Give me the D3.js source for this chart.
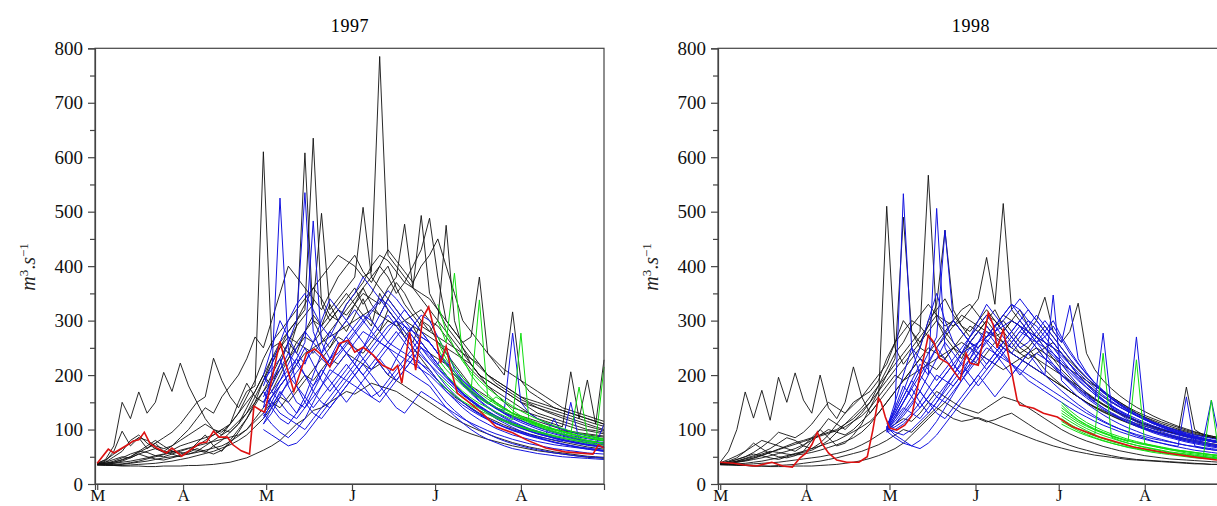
<!DOCTYPE html>
<html>
<head>
<meta charset="utf-8">
<script src="https://cdn.jsdelivr.net/npm/d3@7/dist/d3.min.js"></script>
<style>
body { margin: 0; background: #fff; }
svg { display: block; }
</style>
</head>
<body>
<div id="chart"></div>
<script>
// axis labels: months from 1 March, flow in m3/s
const monthLabels = ["M", "A", "M", "J", "J", "A"];
const monthDays = [0, 31, 61, 92, 122, 153];
const flowTicks = [0, 100, 200, 300, 400, 500, 600, 700, 800];
const flowMinor = [50, 150, 250, 350, 450, 550, 650, 750];
const years = ["1997", "1998"];

// forecast members are read every 3 days
const gridDays = [0,3,6,9,12,15,18,21,24,27,30,33,36,39,42,45,48,51,54,57,60,63,66,69,72,75,78,81,84,87,
  90,93,96,99,102,105,108,111,114,117,120,123,126,129,132,135,138,141,144,147,150,153,156,159,162,165,168,171,174,177,180,183];
const blueStart = 20;   // members issued 1 May
const greenStart = 41;  // members issued 1 July

// ---- 1997 ----
const black97 = [
  [36,35,34,33,33,33,32,32,33,33, 33,34,34,35,36,38,40,44,48,55, 62,70,80,95,110,120,135,140,150,160, 170,165,175,185,180,175,170,160,150,140, 130,120,112,105,98,92,87,82,78,74, 70,67,64,61,59,57,55,53,51,49, 48,47],
  [38,45,70,150,120,169,130,150,205,170, 222,180,150,160,231,190,160,140,170,180, 610,250,260,280,300,330,360,340,310,300, 280,310,340,300,280,320,300,270,290,260, 240,230,220,200,185,170,160,150,140,130, 125,120,115,110,105,100,98,95,92,90, 88,86],
  [37,42,60,97,70,85,65,75,60,55, 50,60,75,90,70,60,80,100,120,150, 190,230,260,240,290,608,300,270,250,280, 300,330,310,290,350,320,300,280,260,300, 290,260,240,220,200,180,170,160,150,140, 130,125,120,115,110,105,100,97,94,92, 90,88],
  [36,38,42,48,55,60,58,52,50,55, 60,65,62,58,70,80,95,110,140,170, 200,230,250,280,300,320,635,330,300,320, 340,360,330,350,380,400,360,330,310,290, 280,300,475,300,250,220,200,180,165,150, 140,135,130,125,120,115,110,105,100,98, 95,92],
  [37,40,45,50,48,55,60,65,58,62, 70,75,80,85,90,100,110,130,160,190, 230,260,280,300,320,340,360,380,400,420, 410,400,380,390,785,420,400,380,360,340, 320,300,280,260,240,220,200,190,180,170, 160,150,140,130,125,120,115,110,105,100, 98,95],
  [36,37,38,40,42,45,48,52,55,60, 58,55,60,70,80,90,100,115,130,150, 170,200,230,260,290,310,330,497,320,340, 360,380,508,380,360,340,320,300,290,280, 270,260,250,240,230,220,200,190,180,170, 160,150,145,140,135,130,125,120,115,110, 105,100],
  [35,36,38,42,48,55,50,46,44,48, 52,58,65,60,55,62,75,95,120,145, 170,190,210,230,250,270,260,280,300,320, 310,330,350,340,330,360,380,477,360,493, 350,320,290,270,250,230,215,200,190,180, 170,160,155,150,145,140,135,130,125,120, 115,110],
  [36,38,40,45,50,60,70,80,70,60, 55,60,70,80,90,100,95,110,130,160, 190,220,250,270,260,280,300,290,310,330, 350,330,360,380,400,380,350,370,400,430, 488,380,300,280,260,270,380,240,220,200, 316,190,170,160,150,140,135,130,125,120, 115,110],
  [37,36,35,36,38,40,42,45,48,50, 52,55,58,62,66,70,78,88,100,120, 140,160,180,200,220,240,250,260,270,280, 290,300,310,320,310,300,290,300,310,320, 300,290,270,250,230,210,195,180,170,160, 150,140,130,120,115,110,105,206,120,191, 110,228],
  [35,34,34,34,35,36,37,38,40,42, 45,48,52,56,60,66,72,80,90,105, 120,140,160,150,170,190,210,230,250,270, 260,250,240,260,280,300,290,270,250,230, 210,190,175,160,150,140,130,122,115,108, 102,97,92,88,84,80,77,74,71,68, 66,64],
  [38,44,55,65,75,85,80,70,65,70, 80,90,100,110,100,95,110,130,150,170, 200,180,220,260,240,280,310,290,330,300, 320,340,360,330,310,340,370,350,320,300, 280,270,260,250,240,230,220,200,185,175, 165,155,148,140,133,127,121,116,111,106, 102,98],
  [36,38,40,44,50,58,66,75,85,95, 110,130,150,120,100,90,110,150,185,160, 150,170,200,230,260,250,240,260,280,300, 330,350,370,400,420,410,390,370,360,350, 340,320,300,280,260,240,220,200,190,180, 170,160,150,145,140,135,130,125,120,115, 110,106],
  [35,35,36,37,39,42,46,50,54,58, 62,66,70,74,78,82,86,90,100,115, 130,150,140,160,180,200,190,210,230,220, 240,230,220,210,220,200,190,180,170,160, 150,140,130,120,112,105,98,92,86,81, 76,72,68,65,62,59,57,55,53,51, 50,49],
  [37,40,50,60,80,90,75,65,60,70, 85,100,120,140,130,160,180,200,230,270, 250,300,350,400,380,360,340,320,350,380, 400,420,390,370,400,430,410,390,370,400, 420,450,400,350,300,280,260,240,225,210, 200,190,180,170,160,150,140,135,130,125, 120,115]
];
const blue97 = [
  [140,200,525,250,180,150,130,120,140,160, 180,200,220,240,260,250,230,210,200,190, 180,160,140,125,112,100,90,82,76,70, 65,62,59,56,54,52,50,49,48,47, 46,45],
  [160,190,220,260,300,535,280,240,220,250, 270,290,310,300,280,260,250,240,230,220, 210,190,170,155,140,128,118,110,102,96, 90,86,82,78,75,72,70,68,66,64, 62,60],
  [120,150,180,200,230,260,483,260,230,240, 260,280,300,320,340,330,310,290,270,250, 240,220,200,180,165,152,140,130,122,115, 108,102,97,92,88,84,80,77,74,72, 70,68],
  [100,90,80,70,75,90,110,130,150,170, 190,210,230,250,270,290,300,280,260,240, 220,200,180,165,150,138,128,119,111,104, 98,93,88,84,80,76,73,70,67,65, 63,61],
  [180,220,260,300,330,350,320,290,270,300, 330,350,380,360,340,320,300,290,280,270, 260,240,220,200,185,170,158,148,140,135, 277,150,130,120,112,106,101,96,92,88, 85,82],
  [130,110,95,85,100,120,150,180,210,200, 190,180,170,160,150,170,190,210,230,210, 190,170,150,135,122,110,100,92,85,79, 74,70,66,63,60,57,55,53,51,50, 49,48],
  [200,250,300,270,240,220,260,300,340,320, 300,280,260,240,220,200,230,260,290,310, 300,270,240,215,195,178,163,150,139,129, 120,113,107,101,96,92,88,84,81,78, 76,74],
  [150,170,190,210,230,200,170,150,140,160, 180,200,220,200,180,160,140,130,150,170, 160,150,140,130,120,112,105,98,92,87, 82,78,74,71,68,65,63,61,59,57, 56,55],
  [170,140,120,110,130,160,200,240,280,260, 240,220,250,280,310,340,320,300,280,260, 240,220,250,210,190,175,160,148,138,130, 122,116,110,105,100,96,92,89,86,83, 81,79],
  [110,130,160,190,220,250,220,190,170,190, 210,230,250,270,290,310,290,270,250,235, 220,205,190,176,163,152,142,133,125,118, 112,106,101,96,92,120,90,86,83,80, 78,76],
  [190,210,230,180,150,140,160,180,200,220, 240,260,280,270,260,250,240,230,220,210, 200,185,170,157,145,135,126,118,111,105, 100,95,91,87,84,81,78,150,80,74, 72,110],
  [140,160,180,200,180,160,140,160,180,200, 220,200,180,160,170,190,210,230,250,270, 260,240,225,205,185,168,154,142,132,123, 115,108,102,97,92,88,84,81,78,76, 74,72],
  [125,145,165,185,205,225,245,230,215,235, 255,275,295,315,335,355,340,320,300,280, 260,240,220,200,182,166,152,140,130,121, 113,106,100,95,90,86,82,79,76,73, 71,69],
  [150,180,210,240,220,200,180,200,230,260, 240,220,200,220,240,260,280,260,240,220, 205,190,175,162,150,139,129,120,112,105, 99,94,89,85,81,77,74,71,68,66, 64,62],
  [200,170,150,130,120,140,170,200,230,250, 270,250,230,210,230,250,270,290,270,250, 230,212,195,180,166,154,143,133,124,116, 109,103,97,92,88,84,80,77,74,71, 69,67],
  [130,160,190,220,250,280,260,240,260,280, 300,320,300,280,260,280,300,320,300,280, 260,240,222,205,190,176,163,151,141,132, 124,117,110,104,99,94,90,86,82,79, 77,75],
  [170,150,130,120,110,100,120,140,160,180, 200,220,200,180,160,180,200,220,240,260, 240,220,200,183,167,153,141,130,120,112, 104,97,91,86,81,77,73,70,67,64, 62,60],
  [110,140,170,150,130,150,180,210,190,170, 150,170,190,210,230,210,190,210,230,250, 235,215,197,181,167,155,144,134,125,117, 110,104,98,93,89,85,81,78,75,72, 70,68]
];
const green97 = [
  [300,260,387,230,200,180,165,150,140,130, 122,115,108,102,97,92,88,84,80,77, 75],
  [250,220,200,185,172,338,160,148,138,130, 123,117,111,106,101,97,93,89,86,83, 80],
  [220,200,185,170,158,148,140,132,125,118, 277,112,106,100,95,91,87,83,80,77, 74],
  [270,240,215,195,180,167,156,146,137,129, 122,116,110,105,100,96,92,178,90,85, 82],
  [200,185,170,158,148,139,131,124,117,111, 106,101,97,93,89,86,83,80,78,76, 215],
  [330,280,250,225,205,190,176,164,153,143, 134,126,119,113,107,102,97,93,89,86, 83],
  [230,210,195,180,168,157,147,160,150,135, 125,118,112,106,101,96,92,88,85,82, 79],
  [190,175,163,152,143,135,128,121,115,109, 104,99,95,91,87,84,81,78,75,73, 71],
  [260,230,205,187,172,160,150,141,133,126, 119,113,108,103,99,95,91,88,85,82, 80]
];
const obsDays97 = [0,4,6,11,13,15,17,19,21.5,25,27,30.5,33.5,37,39.5,42,44,47,49,52,55,56.6,58.8,60.5,66,68,71,75.6,78.5,81,84,87.5,90.6,93,96,99.6,103,106.8,108.5,110,112.8,115,117.6,119.7,122,124,126,127.5,130,134.5,139,144,150,155,162,169,179,181,183];
const obsFlow97 = [38,64,57,72,79,81,95,75,66,57,66,51,62,75,77,97,86,86,72,61,55,143,136,132,262,222,170,240,248,237,215,258,264,242,251,237,218,209,218,185,279,209,306,325,277,222,253,215,167,149,130,105,94,81,66,59,55,72,66];

// ---- 1998 ----
const black98 = [
  [38,36,35,34,33,33,32,32,32,33, 33,33,34,35,36,38,40,43,47,52, 58,65,75,90,105,120,135,150,140,130, 125,120,114,118,125,130,120,110,100,92, 84,77,71,66,62,58,55,52,49,47, 45,44,43,42,41,40,39,38,37,36, 36,35],
  [40,60,100,169,121,172,117,196,150,204, 154,130,200,140,120,150,215,160,130,150, 510,250,220,240,260,280,300,270,250,230, 260,280,300,280,260,240,230,220,210,200, 190,180,170,160,150,140,132,125,118,112, 106,101,96,92,88,84,81,78,75,72, 70,68],
  [38,42,48,60,75,65,55,50,48,52, 60,80,100,85,70,75,90,110,140,170, 200,230,490,280,250,300,320,340,310,290, 270,290,310,300,280,300,320,290,270,250, 230,210,195,180,167,155,145,136,128,121, 115,109,104,99,95,91,87,84,81,78, 76,74],
  [37,40,45,50,55,52,48,45,50,55, 58,62,70,80,95,110,125,140,160,180, 200,220,240,260,280,567,300,280,260,240, 260,280,300,320,290,270,250,240,230,220, 210,200,190,180,168,157,147,138,130,123, 116,110,105,100,96,92,88,85,82,79, 77,75],
  [36,38,42,47,52,58,65,75,85,80, 70,65,75,90,110,130,150,160,170,190, 230,260,300,280,260,290,330,466,320,290, 280,300,320,300,280,260,240,250,230,210, 195,182,170,160,150,141,133,126,119,113, 108,103,98,94,90,86,83,80,77,74, 72,70],
  [37,38,40,43,47,52,58,64,70,76, 80,85,90,95,100,110,120,135,150,170, 190,210,230,250,270,290,310,300,290,300, 320,340,416,330,515,320,300,280,270,260, 250,240,225,210,195,182,170,160,150,141, 133,126,120,114,109,104,99,95,91,88, 85,82],
  [36,36,37,38,40,42,45,48,52,56, 60,65,70,75,80,88,96,105,115,130, 150,170,190,210,230,250,240,230,250,270, 290,280,270,290,310,300,290,280,300,343, 280,260,280,332,240,210,190,175,162,151, 141,133,125,118,112,106,101,96,92,88, 85,82],
  [38,39,41,44,48,53,58,63,68,73, 78,83,88,93,98,105,115,125,140,160, 180,200,190,210,230,220,210,230,250,240, 230,220,240,260,250,240,230,220,210,200, 190,180,170,160,150,142,135,128,122,116, 111,106,102,98,95,92,178,100,90,86, 83,80],
  [35,35,36,36,37,38,39,40,42,44, 46,48,50,53,56,60,65,72,80,90, 100,110,120,115,130,150,170,160,150,140, 135,130,140,150,160,155,150,140,130,120, 110,100,92,85,79,74,69,65,61,58, 55,52,50,48,46,45,44,43,42,41, 40,40],
  [39,45,52,60,70,80,75,70,65,60, 70,85,100,120,110,100,115,130,150,180, 210,240,260,290,310,330,310,290,300,320, 330,310,290,270,280,300,290,270,250,230, 215,200,188,176,165,155,146,138,130,123, 117,111,106,101,97,93,89,86,83,80, 78,76],
  [37,39,42,46,50,55,60,58,55,53, 55,58,62,67,72,78,85,95,110,130, 150,170,190,200,210,220,230,240,250,260, 250,240,230,220,210,220,230,240,250,240, 230,220,210,200,190,180,170,160,150,140, 130,122,115,108,102,97,92,88,84,80, 77,74],
  [36,35,34,34,33,33,33,34,35,36, 38,40,42,45,48,52,56,60,66,72, 80,90,100,95,110,125,140,130,120,115, 118,122,116,110,104,98,92,86,80,75, 70,66,62,59,56,53,51,49,47,45, 44,43,42,41,40,39,38,37,37,36, 36,35],
  [38,41,45,50,58,68,80,95,90,85, 95,110,130,150,140,130,145,160,180,200, 220,260,280,300,290,270,250,270,290,310, 300,290,280,270,260,250,240,230,240,250, 260,240,220,200,185,172,160,150,141,133, 126,119,113,108,103,99,95,91,88,85, 82,80],
  [37,38,40,42,45,48,52,56,60,65, 72,80,90,100,95,90,100,115,130,150, 170,190,210,230,250,240,260,280,300,280, 260,250,270,290,300,280,260,250,270,290, 270,250,230,210,195,181,168,157,147,138, 130,123,117,111,106,101,97,93,89,86, 83,80]
];
const blue98 = [
  [100,140,533,250,200,180,160,150,170,190, 210,230,250,240,230,220,210,200,190,180, 170,160,150,140,130,122,114,107,101,96, 91,87,83,80,77,74,71,69,67,65, 63,61],
  [110,130,160,190,220,200,506,250,220,200, 230,260,290,270,250,240,260,280,260,240, 220,200,185,170,158,147,137,128,120,113, 107,101,96,91,87,83,79,76,73,70, 68,66],
  [95,120,150,180,210,240,270,466,300,280, 260,250,270,290,310,330,310,290,270,250, 235,220,205,190,177,165,154,144,135,127, 120,113,107,102,97,92,88,84,81,78, 75,73],
  [105,90,80,70,65,75,90,110,130,150, 170,190,210,230,250,240,230,220,210,200, 347,190,175,160,148,137,127,118,110,103, 97,91,86,82,78,74,71,68,65,63, 61,59],
  [100,115,135,160,190,220,250,230,210,240, 270,300,330,310,290,270,250,260,280,300, 280,260,328,230,205,185,170,157,146,136, 127,119,112,106,100,95,90,86,82,79, 76,73],
  [98,110,125,145,170,200,230,260,240,220, 200,180,200,220,240,260,280,300,280,260, 240,220,200,182,166,152,277,140,128,118, 110,103,97,92,87,83,79,76,73,70, 68,66],
  [102,125,150,175,200,225,250,275,300,280, 260,240,220,240,260,280,300,320,300,280, 260,240,220,200,183,168,155,143,133,124, 270,120,112,105,99,94,89,85,81,78, 75,72],
  [97,85,75,70,80,95,115,140,165,190, 215,240,265,250,235,220,205,190,180,170, 160,150,140,131,123,115,108,102,96,91, 86,82,78,75,72,69,160,70,66,63, 61,59],
  [104,130,160,190,170,150,140,160,180,200, 220,240,260,280,300,320,340,320,300,280, 260,240,220,200,183,168,155,144,134,125, 117,110,104,99,94,90,86,82,79,154, 80,76],
  [100,120,140,130,120,140,160,180,200,220, 240,260,280,260,240,220,200,220,240,230, 220,205,190,176,163,151,140,130,121,113, 106,100,94,89,85,81,77,74,71,68, 66,64],
  [99,105,115,130,150,175,200,190,180,200, 220,240,230,220,240,260,280,270,260,250, 240,225,210,196,183,171,160,150,141,133, 126,119,113,108,103,98,94,90,87,84, 81,79],
  [101,135,170,210,250,300,350,300,260,240, 250,260,270,280,290,300,290,280,270,260, 250,235,220,205,190,176,163,152,142,133, 125,118,111,105,100,95,91,87,84,81, 78,76],
  [103,95,90,100,115,130,150,170,190,210, 230,250,270,290,310,330,320,300,290,270, 250,230,210,193,178,164,152,141,131,122, 114,107,101,96,91,87,83,80,77,74, 71,69],
  [100,125,150,175,150,130,150,175,200,225, 250,230,210,230,250,270,290,270,250,230, 215,200,186,173,161,150,140,131,123,116, 109,103,98,93,89,85,81,78,75,72, 70,68],
  [102,150,200,250,230,210,190,210,230,250, 270,290,310,290,270,250,270,290,310,290, 270,250,230,212,196,181,168,156,145,135, 126,118,111,105,99,94,89,85,81,78, 75,72],
  [98,110,130,150,170,150,130,120,140,160, 180,200,180,160,180,200,220,240,220,200, 185,171,158,146,135,125,116,108,101,95, 89,84,79,75,71,68,65,62,60,58, 56,55],
  [104,140,180,160,140,160,180,200,220,200, 180,200,220,240,260,280,300,280,260,270, 290,265,240,220,202,186,172,159,148,138, 129,121,114,108,102,97,92,88,84,80, 77,74],
  [96,100,110,125,140,160,180,200,220,240, 260,280,260,240,220,200,220,240,260,280, 300,270,245,222,202,185,170,157,145,135, 126,118,111,105,99,94,90,86,82,79, 76,73]
];
const green98 = [
  [125,115,106,98,91,240,86,80,75,71, 67,64,61,58,56,54,52,50,48,47, 46],
  [140,128,117,108,100,94,88,83,78,228, 74,70,66,63,60,57,55,53,51,49, 48],
  [115,106,98,91,85,80,75,71,67,64, 61,58,56,54,52,50,48,47,154,46, 45],
  [130,120,110,102,95,89,84,79,75,71, 68,65,62,59,57,55,53,51,49,48, 47],
  [150,135,123,113,105,98,92,87,82,78, 74,71,68,65,62,60,58,56,54,52, 51],
  [120,110,101,94,88,83,78,74,70,67, 64,61,58,56,54,52,50,48,47,46, 45],
  [135,124,114,106,99,93,88,83,79,75, 72,69,66,63,61,59,57,55,53,51, 50],
  [110,102,95,89,84,79,75,71,68,65, 62,60,58,56,54,52,50,49,48,47, 46],
  [145,130,118,109,101,95,89,84,80,76, 73,70,67,64,62,60,58,56,54,53, 52]
];
const obsDays98 = [0,4.8,8.5,13,18.6,22.6,26,28.8,31,33,35,36.6,39,42,45.6,50,53,55,57,58,59.5,61,63.6,66.5,69,72,75,77,79,82,86.5,88.6,90,93,96.6,98.4,99.8,102,104,107,108,113,116.5,121.5,127,137,149,161,173,179,183];
const obsFlow98 = [40,38,35,33,40,33,31,48,57,72,95,75,57,44,40,40,50,99,158,150,123,103,99,108,125,200,273,260,231,222,191,240,222,218,314,292,250,283,233,154,145,139,130,123,105,86,68,57,48,44,42];

const width = 1217, height = 506;
const svg = d3.select('#chart')
  .append('svg')
  .attr('width', width)
  .attr('height', height)
  .style('background-color', 'white');

const serif = '"Liberation Serif", "Times New Roman", serif';

function drawPanel(opts) {
  const x = d3.scaleLinear().domain([-0.8, 183]).range([opts.left, opts.right]);
  const y = d3.scaleLinear().domain([0, 800]).range([484, 48.3]);
  const g = svg.append('g');

  const line = d3.line().x(d => x(d[0])).y(d => y(d[1]));
  const member = start => vals => vals.map((v, i) => [gridDays[start + i], v]);

  // ensembles: black (1 March), blue (1 May), green (1 July)
  g.append('g').selectAll('path')
    .data(opts.black.map(member(0)))
    .join('path')
    .attr('d', line)
    .attr('fill', 'none')
    .attr('stroke', '#111')
    .attr('stroke-width', 0.9);

  g.append('g').selectAll('path')
    .data(opts.blue.map(member(blueStart)))
    .join('path')
    .attr('d', line)
    .attr('fill', 'none')
    .attr('stroke', '#1414e0')
    .attr('stroke-width', 1);

  g.append('g').selectAll('path')
    .data(opts.green.map(member(greenStart)))
    .join('path')
    .attr('d', line)
    .attr('fill', 'none')
    .attr('stroke', '#10dd10')
    .attr('stroke-width', 1);

  // observed flow
  g.append('path')
    .datum(opts.obsDays.map((d, i) => [d, opts.obsFlow[i]]))
    .attr('d', line)
    .attr('fill', 'none')
    .attr('stroke', '#dd1111')
    .attr('stroke-width', 1.6);

  // frame
  g.append('rect')
    .attr('x', opts.left)
    .attr('y', y(800))
    .attr('width', opts.right - opts.left)
    .attr('height', y(0) - y(800))
    .attr('fill', 'none')
    .attr('stroke', '#444')
    .attr('stroke-width', 1.2);

  // y axis, major and minor ticks
  const yAxis = g.append('g')
    .attr('transform', `translate(${opts.left},0)`)
    .call(d3.axisLeft(y).tickValues(flowTicks).tickSize(7).tickPadding(5));
  g.append('g')
    .attr('transform', `translate(${opts.left},0)`)
    .call(d3.axisLeft(y).tickValues(flowMinor).tickSize(5).tickFormat(''))
    .call(a => a.select('.domain').remove())
    .selectAll('line').attr('stroke', '#444').attr('stroke-width', 1.2);

  // x axis
  const xAxis = g.append('g')
    .attr('transform', `translate(0,${y(0)})`)
    .call(d3.axisBottom(x).tickValues(monthDays).tickSize(6)
      .tickFormat((d, i) => monthLabels[i]));

  [yAxis, xAxis].forEach(a => {
    a.attr('font-family', serif).attr('font-size', 19);
    a.selectAll('path, line').attr('stroke', '#444').attr('stroke-width', 1.2);
    a.selectAll('text').attr('fill', '#111');
  });
  // month letters sit just under the ticks, inside the picture
  xAxis.selectAll('text')
    .attr('font-size', 17)
    .attr('y', 5)
    .attr('dy', '0.71em');

  // title
  g.append('text')
    .attr('x', opts.titleX)
    .attr('y', 32)
    .attr('text-anchor', 'middle')
    .attr('font-family', serif)
    .attr('font-size', 18)
    .style('letter-spacing', '0.6px')
    .text(opts.title);

  // y label m^3.s^-1
  const lab = g.append('text')
    .attr('transform', `translate(${opts.left - 60},267) rotate(-90)`)
    .attr('text-anchor', 'middle')
    .attr('font-family', serif)
    .attr('font-size', 20)
    .attr('fill', '#222');
  lab.append('tspan').style('font-style', 'italic').text('m');
  lab.append('tspan').attr('baseline-shift', 'super').attr('font-size', 13).text('3');
  lab.append('tspan').text('.');
  lab.append('tspan').style('font-style', 'italic').text('s');
  lab.append('tspan').attr('baseline-shift', 'super').attr('font-size', 13).text('\u22121');
}

drawPanel({
  left: 95, right: 604, titleX: 350, title: years[0],
  black: black97, blue: blue97, green: green97,
  obsDays: obsDays97, obsFlow: obsFlow97
});

drawPanel({
  left: 718, right: 1228, titleX: 971, title: years[1],
  black: black98, blue: blue98, green: green98,
  obsDays: obsDays98, obsFlow: obsFlow98
});
</script>
</body>
</html>
